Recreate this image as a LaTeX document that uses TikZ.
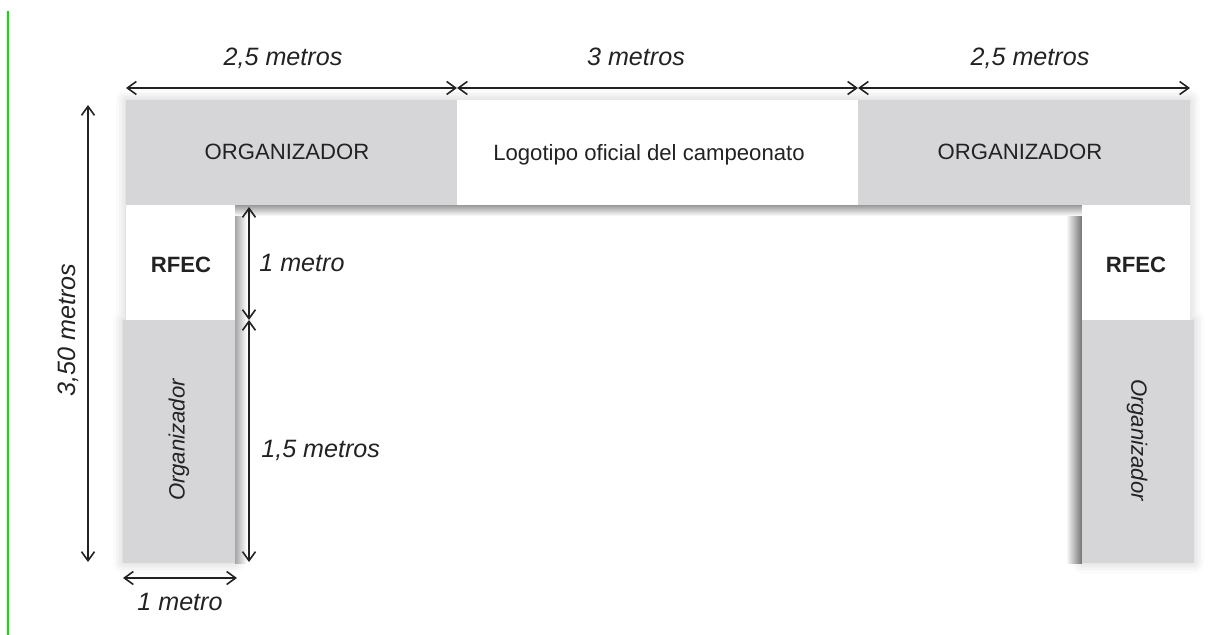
\documentclass[tikz,border=0pt]{standalone}
\usepackage{fontspec}
\setmainfont{Liberation Sans}
\usetikzlibrary{arrows.meta,shadows.blur}
\definecolor{panelgrey}{RGB}{214,214,216}
\definecolor{inkgrey}{RGB}{34,34,34}
\definecolor{markgreen}{RGB}{0,230,0}

\begin{document}
\begin{tikzpicture}[x=0.02cm, y=-0.02cm,
    dim/.style={{Straight Barb[length=1.8mm,width=2.6mm]}-{Straight Barb[length=1.8mm,width=2.6mm]}, line width=0.9pt, draw=inkgrey},
    dimlabel/.style={font=\fontsize{14.3}{17}\selectfont\itshape, text=inkgrey, inner sep=0pt},
    boxlabel/.style={font=\fontsize{12.6}{15}\selectfont, text=inkgrey, inner sep=0pt}]
    \useasboundingbox (0,0) rectangle (1208,635);
    % green edge line
    \draw[markgreen, line width=0.8pt] (8,11) -- (8,635);
    % outer shadow of the frame
    \fill[white, blur shadow={shadow xshift=0pt, shadow yshift=0pt, shadow blur radius=2mm, shadow opacity=22}]
        (126,100) -- (1190,100) -- (1190,320) -- (1194,320) -- (1194,563) -- (1082,563) -- (1082,205)
        -- (235,205) -- (235,563) -- (123,563) -- (123,320) -- (126,320) -- cycle;
    % inner shadows
    \shade[left color=white, right color=black!55] (1066,205) rectangle (1082,563);
    \shade[left color=black!35, right color=white] (235,205) rectangle (247,563);
    \shade[top color=black!40, bottom color=white] (235,205) rectangle (1082,216);
    % top band
    \fill[panelgrey] (126,100) rectangle (457,205);
    \fill[white] (457,100) rectangle (858,205);
    \fill[panelgrey] (858,100) rectangle (1190,205);
    % side columns
    \fill[white] (126,205) rectangle (235,320);
    \fill[panelgrey] (123,320) rectangle (235,563);
    \fill[white] (1082,205) rectangle (1190,320);
    \fill[panelgrey] (1082,320) rectangle (1194,563);
    % texts of the panels
    \node[boxlabel] (orgL) at (287,152) {ORGANIZADOR};
    \node[boxlabel] (logo) at (649,155) {Logotipo oficial del campeonato};
    \node[boxlabel] (orgR) at (1020,152) {ORGANIZADOR};
    \node[boxlabel, font=\fontsize{12.6}{15}\selectfont\bfseries] (rfecL) at (181,265) {RFEC};
    \node[boxlabel, font=\fontsize{12.6}{15}\selectfont\bfseries] (rfecR) at (1136,265) {RFEC};
    \node[boxlabel, font=\fontsize{12.6}{15}\selectfont\itshape, rotate=90] (colL) at (179,440) {Organizador};
    \node[boxlabel, font=\fontsize{12.6}{15}\selectfont\itshape, rotate=-90] (colR) at (1137,440) {Organizador};
    % ends of the measures
    \coordinate (w0) at (126,88);
    \coordinate (w1) at (457,88);
    \coordinate (w2) at (858,88);
    \coordinate (w3) at (1190,88);
    \coordinate (h0) at (88,105);
    \coordinate (h1) at (88,562);
    \coordinate (c0) at (249,207);
    \coordinate (c1) at (249,320);
    \coordinate (c2) at (249,562);
    \coordinate (b0) at (123,578);
    \coordinate (b1) at (237,578);
    % widths
    \draw[dim] (w0) -- (w1);
    \draw[dim] (w1) -- (w2);
    \draw[dim] (w2) -- (w3);
    \node[dimlabel, anchor=base] (lblW0) at (283,66) {2,5 metros};
    \node[dimlabel, anchor=base] (lblW1) at (636,66) {3 metros};
    \node[dimlabel, anchor=base] (lblW2) at (1030,66) {2,5 metros};
    % total height
    \draw[dim] (h1) -- (h0);
    \node[dimlabel, rotate=90] (lblH) at (68,330) {3,50 metros};
    % heights of the column
    \draw[dim] (c0) -- (c1);
    \draw[dim] (c1) -- (c2);
    \node[dimlabel, anchor=west] (lblC0) at (259,263) {1 metro};
    \node[dimlabel, anchor=west] (lblC1) at (261,450) {1,5 metros};
    % width of the column
    \draw[dim] (b0) -- (b1);
    \node[dimlabel] (lblB) at (180,602) {1 metro};
\end{tikzpicture}
\end{document}
